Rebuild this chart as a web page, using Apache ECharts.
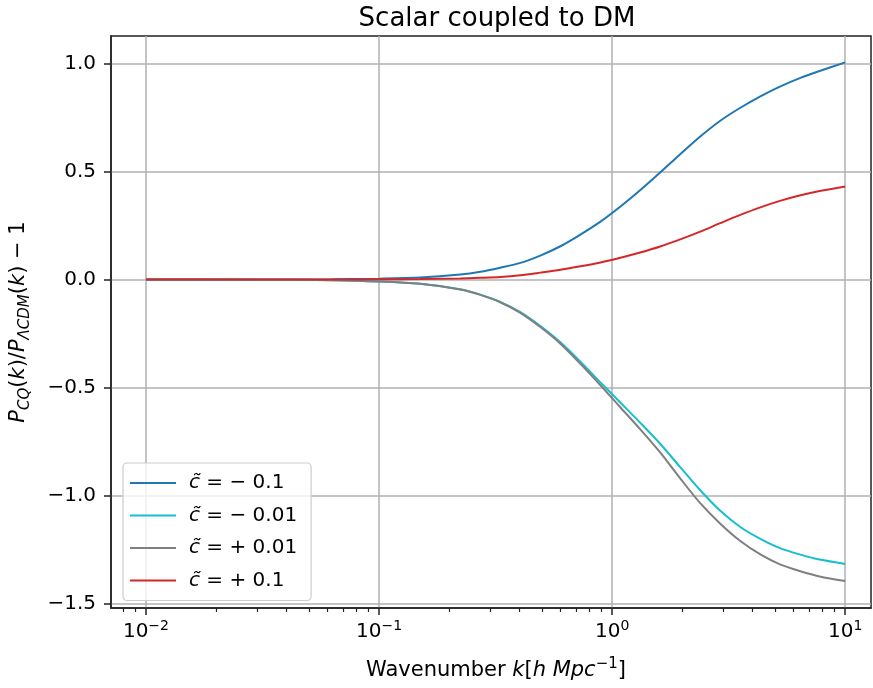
<!DOCTYPE html>
<html>
<head>
<meta charset="utf-8">
<title>Scalar coupled to DM</title>
<script src="https://cdn.jsdelivr.net/npm/echarts@6/dist/echarts.min.js"></script>
<style>
  html, body { margin: 0; padding: 0; background: #fff; }
  #chart { width: 873px; height: 688px; }
</style>
</head>
<body>
<div id="chart"></div>
<script>
// wavenumbers k [h/Mpc] where the curves were read
var kValues = [0.01, 0.0316, 0.0631, 0.1, 0.15, 0.223, 0.272, 0.331, 0.404, 0.492,
               0.6, 0.731, 0.891, 1.086, 1.318, 1.607, 1.959, 2.388, 2.911, 3.548,
               4.325, 5.248, 6.427, 7.762, 10.0];

// P_CQ/P_LCDM - 1 for each coupling
var cMinus01  = [0, 0.0003, 0.0015, 0.004, 0.009, 0.023, 0.036, 0.055, 0.077, 0.111,
                 0.154, 0.208, 0.268, 0.338, 0.413, 0.495, 0.58, 0.662, 0.735, 0.795,
                 0.848, 0.893, 0.933, 0.965, 1.005];
var cMinus001 = [0, -0.0005, -0.003, -0.009, -0.02, -0.045, -0.07, -0.103, -0.151, -0.215,
                 -0.29, -0.38, -0.476, -0.57, -0.662, -0.76, -0.868, -0.975, -1.07, -1.145,
                 -1.2, -1.243, -1.273, -1.296, -1.316];
var cPlus001  = [0, -0.0005, -0.003, -0.009, -0.02, -0.046, -0.071, -0.105, -0.154, -0.22,
                 -0.297, -0.39, -0.489, -0.592, -0.692, -0.80, -0.92, -1.035, -1.13, -1.21,
                 -1.272, -1.318, -1.35, -1.374, -1.395];
var cPlus01   = [0, 0, 0.0003, 0.001, 0.002, 0.005, 0.008, 0.012, 0.02, 0.032,
                 0.045, 0.061, 0.079, 0.101, 0.125, 0.153, 0.186, 0.222, 0.261, 0.299,
                 0.334, 0.364, 0.39, 0.41, 0.431];

var seriesNames = ['{i|c\u0303} = \u2212 0.1', '{i|c\u0303} = \u2212 0.01',
                   '{i|c\u0303} = + 0.01', '{i|c\u0303} = + 0.1'];
var seriesColors = ['#1f77b4', '#17becf', '#7f7f7f', '#d62728'];
var seriesData = [cMinus01, cMinus001, cPlus001, cPlus01];

// ticks
var xMajorTicks = [0.01, 0.1, 1, 10];
var xTickExp = ['\u22122', '\u22121', '0', '1'];
var yTicks = [-1.5, -1.0, -0.5, 0.0, 0.5, 1.0];

var xMin = 0.00708, xMax = 12.9;
var yMin = -1.52, yMax = 1.127;

// matplotlib style log minor ticks (2..9 per decade)
var xMinorTicks = [];
for (var e = -3; e <= 1; e++) {
    for (var m = 2; m <= 9; m++) {
        var v = m * Math.pow(10, e);
        if (v > xMin && v < xMax) xMinorTicks.push(v);
    }
}

var font = 'DejaVu Sans';

function pairs(ys) {
    return ys.map(function (y, i) { return [kValues[i], y]; });
}

var series = seriesData.map(function (ys, i) {
    return {
        name: seriesNames[i],
        type: 'line',
        data: pairs(ys),
        symbol: 'none',
        smooth: 0.3,
        lineStyle: { color: seriesColors[i], width: 2 },
        itemStyle: { color: seriesColors[i] },
        z: 3 + i
    };
});

var chart = echarts.init(document.getElementById('chart'));
chart.setOption({
    animation: false,
    backgroundColor: '#fff',
    title: {
        text: 'Scalar coupled to DM',
        left: 492,
        textAlign: 'center',
        top: 1,
        textStyle: { fontFamily: font, fontSize: 26, fontWeight: 'normal', color: '#000' }
    },
    grid: {
        left: 111, right: 2, top: 36, bottom: 80,
        show: true, borderColor: '#222', borderWidth: 1.5, backgroundColor: '#fff'
    },
    legend: {
        orient: 'vertical',
        left: 123,
        top: 463,
        icon: 'rect',
        itemWidth: 46,
        itemHeight: 2,
        itemGap: 12.5,
        padding: [10, 14, 10, 7],
        backgroundColor: 'rgba(255,255,255,0.8)',
        borderColor: '#cccccc',
        borderWidth: 1.2,
        borderRadius: 4,
        textStyle: {
            fontFamily: font, fontSize: 20, color: '#000', padding: [0, 0, 0, 8], lineHeight: 20,
            rich: { i: { fontFamily: font, fontStyle: 'italic', fontSize: 20, lineHeight: 20 } }
        },
        data: seriesNames
    },
    xAxis: [{
        type: 'log',
        logBase: 10,
        min: xMin,
        max: xMax,
        name: 'Wavenumber {i|k}[{i|h Mpc}{sup|\u22121}]',
        nameLocation: 'middle',
        nameGap: 49,
        nameTextStyle: {
            fontFamily: font, fontSize: 21, color: '#000', padding: [0, 0, 0, 10],
            rich: {
                i: { fontFamily: font, fontStyle: 'italic', fontSize: 21, lineHeight: 27 },
                sup: { fontFamily: font, fontSize: 15, verticalAlign: 'top', lineHeight: 14 }
            }
        },
        axisLine: { show: true, onZero: false, lineStyle: { color: '#222', width: 1.5 } },
        axisTick: { show: true, inside: false, length: 7, lineStyle: { color: '#222', width: 1.5 },
                    customValues: xMajorTicks },
        axisLabel: {
            customValues: xMajorTicks,
            margin: 11,
            formatter: function (v) {
                var idx = xMajorTicks.indexOf(v);
                if (idx < 0) return '';
                return '{b|10}{s|' + xTickExp[idx] + '}';
            },
            rich: {
                b: { fontFamily: font, fontSize: 20, color: '#000', lineHeight: 26 },
                s: { fontFamily: font, fontSize: 14, color: '#000', verticalAlign: 'top', lineHeight: 13 }
            }
        },
        splitLine: { show: true, lineStyle: { color: '#b0b0b0', width: 1.5 } }
    }, {
        type: 'log',
        logBase: 10,
        min: xMin,
        max: xMax,
        position: 'bottom',
        axisLine: { show: false, onZero: false },
        axisTick: { show: true, length: 4, lineStyle: { color: '#222', width: 1.2 },
                    customValues: xMinorTicks },
        axisLabel: { show: false },
        splitLine: { show: false }
    }],
    yAxis: {
        type: 'value',
        min: yMin,
        max: yMax,
        name: '{i|P}{sub|CQ}({i|k})/{i|P}{sub|\u039bCDM}({i|k}) \u2212 1',
        nameLocation: 'middle',
        nameGap: 78,
        nameRotate: 90,
        nameTextStyle: {
            fontFamily: font, fontSize: 21, color: '#000',
            rich: {
                i: { fontFamily: font, fontStyle: 'italic', fontSize: 21, lineHeight: 28 },
                sub: { fontFamily: font, fontStyle: 'italic', fontSize: 15, verticalAlign: 'bottom', lineHeight: 15 }
            }
        },
        axisLine: { show: true, onZero: false, lineStyle: { color: '#222', width: 1.5 } },
        axisTick: { show: true, inside: false, length: 7, lineStyle: { color: '#222', width: 1.5 },
                    customValues: yTicks },
        axisLabel: {
            customValues: yTicks,
            margin: 15,
            fontFamily: font, fontSize: 20, color: '#000',
            formatter: function (v) {
                return (v < 0 ? '\u2212' : '') + Math.abs(v).toFixed(1);
            }
        },
        splitLine: { show: true, lineStyle: { color: '#b0b0b0', width: 1.5 } }
    },
    series: series
});
</script>
</body>
</html>
